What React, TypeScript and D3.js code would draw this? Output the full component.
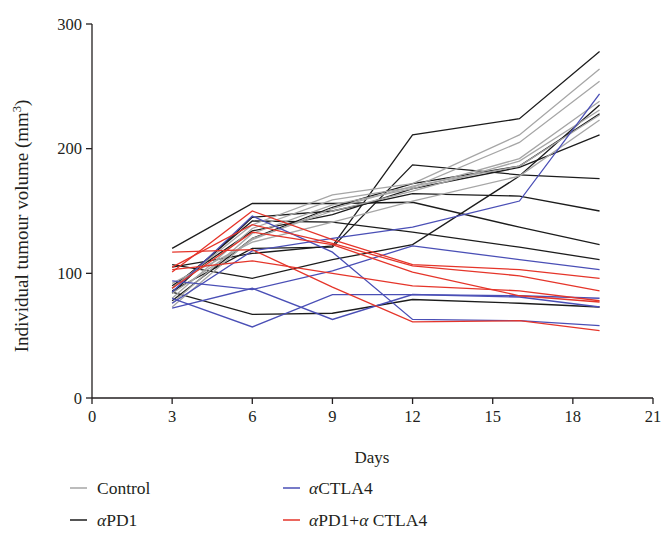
import React from "react";
import * as d3 from "d3";

const days = [3, 6, 9, 12, 16, 19];
const xTicks = [0, 3, 6, 9, 12, 15, 18, 21];
const yTicks = [0, 100, 200, 300];

const controlSeries = [
  [88, 139, 163, 172, 211, 264],
  [80, 136, 159, 169, 205, 254],
  [76, 132, 155, 168, 192, 238],
  [73, 128, 150, 166, 190, 231],
  [84, 127, 152, 170, 186, 227],
  [92, 125, 141, 158, 178, 223],
];

const pd1Series = [
  [120, 156, 156, 157, 137, 123],
  [105, 116, 122, 211, 224, 278],
  [86, 120, 121, 187, 179, 176],
  [107, 96, 111, 123, 178, 235],
  [85, 67, 68, 79, 76, 73],
  [84, 145, 150, 164, 162, 150],
  [88, 142, 141, 133, 121, 111],
  [78, 128, 153, 172, 186, 228],
  [90, 134, 147, 168, 185, 211],
];

const ctla4Series = [
  [85, 146, 117, 63, 62, 58],
  [94, 87, 102, 122, 111, 103],
  [76, 118, 128, 137, 158, 244],
  [80, 57, 83, 83, 82, 80],
  [72, 88, 63, 83, 81, 73],
];

const comboSeries = [
  [101, 150, 127, 107, 103, 96],
  [117, 119, 89, 61, 62, 54],
  [105, 139, 124, 106, 98, 86],
  [103, 110, 100, 90, 86, 78],
  [88, 133, 123, 101, 82, 77],
];

const COLORS = {
  control: "#a6a6a6",
  pd1: "#1c1c1c",
  ctla4: "#4a4fb6",
  combo: "#e5352a",
};

const FONT = "'Liberation Serif', 'DejaVu Serif', serif";
const TEXT = "#231f20";

export default function App() {
  const x = d3.scaleLinear().domain([0, 21]).range([92, 653]);
  const y = d3.scaleLinear().domain([0, 300]).range([398, 24]);
  const line = d3
    .line<number>()
    .x((_, i) => x(days[i]))
    .y((d) => y(d));

  const groups: [number[][], string][] = [
    [pd1Series, COLORS.pd1],
    [controlSeries, COLORS.control],
    [ctla4Series, COLORS.ctla4],
    [comboSeries, COLORS.combo],
  ];

  return (
    <svg
      width={666}
      height={533}
      style={{ position: "absolute", left: 0, top: 0, background: "#fff" }}
      fontFamily={FONT}
    >
      {groups.map(([series, color], gi) =>
        series.map((s, si) => (
          <path
            key={`${gi}-${si}`}
            d={line(s) || ""}
            fill="none"
            stroke={color}
            strokeWidth={1.3}
            strokeLinejoin="miter"
          />
        ))
      )}

      {/* y axis */}
      <line x1={x(0)} x2={x(0)} y1={y(300)} y2={y(0)} stroke={TEXT} strokeWidth={1.3} />
      {yTicks.map((t) => (
        <g key={`yt${t}`}>
          <line x1={x(0) - 6} x2={x(0)} y1={y(t)} y2={y(t)} stroke={TEXT} strokeWidth={1.3} />
          <text x={x(0) - 10} y={y(t)} dy="0.35em" textAnchor="end" fontSize={16.5} fill={TEXT}>
            {t}
          </text>
        </g>
      ))}

      {/* x axis */}
      <line x1={x(0)} x2={x(21)} y1={y(0)} y2={y(0)} stroke={TEXT} strokeWidth={1.3} />
      {xTicks.map((t) => (
        <g key={`xt${t}`}>
          <line x1={x(t)} x2={x(t)} y1={y(0)} y2={y(0) + 6} stroke={TEXT} strokeWidth={1.3} />
          <text x={x(t)} y={y(0) + 24} textAnchor="middle" fontSize={16.5} fill={TEXT}>
            {t}
          </text>
        </g>
      ))}

      <text x={372} y={463} textAnchor="middle" fontSize={17} fill={TEXT}>
        Days
      </text>
      <text
        transform={`translate(28, 226) rotate(-90)`}
        textAnchor="middle"
        fontSize={19}
        fill={TEXT}
      >
        Individual tumour volume (mm<tspan fontSize={12.5} dy={-7}>3</tspan>
        <tspan dy={7}>)</tspan>
      </text>

      {/* legend */}
      <g>
        <line x1={70} x2={87} y1={488} y2={488} stroke={COLORS.control} strokeWidth={1.5} />
        <text x={97} y={494} fontSize={17.5} fill={TEXT}>Control</text>

        <line x1={70} x2={87} y1={520} y2={520} stroke={COLORS.pd1} strokeWidth={1.5} />
        <text x={97} y={526} fontSize={17.5} fill={TEXT}>
          <tspan fontStyle="italic">α</tspan>PD1
        </text>

        <line x1={283} x2={300} y1={488} y2={488} stroke={COLORS.ctla4} strokeWidth={1.5} />
        <text x={309} y={494} fontSize={17.5} fill={TEXT}>
          <tspan fontStyle="italic">α</tspan>CTLA4
        </text>

        <line x1={283} x2={300} y1={520} y2={520} stroke={COLORS.combo} strokeWidth={1.5} />
        <text x={309} y={526} fontSize={17.5} fill={TEXT}>
          <tspan fontStyle="italic">α</tspan>PD1+<tspan fontStyle="italic">α</tspan> CTLA4
        </text>
      </g>
    </svg>
  );
}
